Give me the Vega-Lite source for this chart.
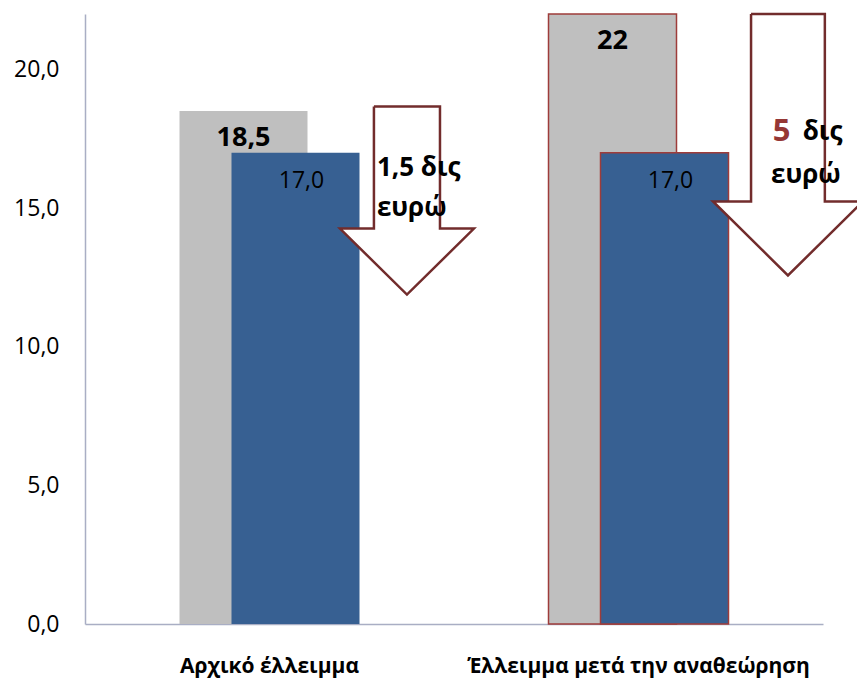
{
  "$schema": "https://vega.github.io/schema/vega-lite/v6.json",
  "width": 738,
  "height": 610,
  "autosize": {"type": "none"},
  "padding": {"left": 85, "top": 14, "right": 34, "bottom": 55},
  "background": "white",
  "config": {"view": {"stroke": null}, "font": "Open Sans", "axis": {"grid": false, "ticks": false}},
  "datasets": {
    "bars": [
      {"category": "Αρχικό έλλειμμα", "series": "Αρχικό", "value": 18.5, "label": "18,5"},
      {"category": "Αρχικό έλλειμμα", "series": "Τελικό", "value": 17.0, "label": "17,0"},
      {"category": "Έλλειμμα μετά την αναθεώρηση", "series": "Αρχικό", "value": 22, "label": "22"},
      {"category": "Έλλειμμα μετά την αναθεώρηση", "series": "Τελικό", "value": 17.0, "label": "17,0"}
    ],
    "arrows": [
      {"arrow": 1, "order": 1, "ax": 0.783, "value": 18.66},
      {"arrow": 1, "order": 2, "ax": 0.962, "value": 18.66},
      {"arrow": 1, "order": 3, "ax": 0.962, "value": 14.26},
      {"arrow": 1, "order": 4, "ax": 1.054, "value": 14.26},
      {"arrow": 1, "order": 5, "ax": 0.8725, "value": 11.88},
      {"arrow": 1, "order": 6, "ax": 0.691, "value": 14.26},
      {"arrow": 1, "order": 7, "ax": 0.783, "value": 14.26},
      {"arrow": 1, "order": 8, "ax": 0.783, "value": 18.66},
      {"arrow": 2, "order": 1, "ax": 1.805, "value": 22.0},
      {"arrow": 2, "order": 2, "ax": 2.005, "value": 22.0},
      {"arrow": 2, "order": 3, "ax": 2.005, "value": 15.24},
      {"arrow": 2, "order": 4, "ax": 2.108, "value": 15.24},
      {"arrow": 2, "order": 5, "ax": 1.905, "value": 12.57},
      {"arrow": 2, "order": 6, "ax": 1.702, "value": 15.24},
      {"arrow": 2, "order": 7, "ax": 1.805, "value": 15.24},
      {"arrow": 2, "order": 8, "ax": 1.805, "value": 22.0}
    ],
    "notes": [
      {"note": "1,5 δις", "ax": 0.791, "value": 16.46},
      {"note": "ευρώ", "ax": 0.791, "value": 14.99},
      {"note": "5", "ax": 1.864, "value": 17.76},
      {"note": "δις", "ax": 1.945, "value": 17.76},
      {"note": "ευρώ", "ax": 1.859, "value": 16.21}
    ]
  },
  "layer": [
    {
      "data": {"name": "bars"},
      "encoding": {
        "x": {
          "field": "category", "type": "nominal", "sort": null,
          "scale": {"paddingInner": 0, "paddingOuter": 0},
          "axis": {
            "title": null, "labelAngle": 0, "labelFont": "Open Sans", "labelFontWeight": "bold",
            "labelFontSize": 21, "labelColor": "black", "labelPadding": 31, "labelLimit": 0,
            "domainColor": "#a9aec4", "domainWidth": 1.5, "ticks": false
          }
        },
        "y": {
          "field": "value", "type": "quantitative",
          "scale": {"domain": [0, 22], "nice": false},
          "axis": {
            "title": null, "values": [0, 5, 10, 15, 20],
            "labelExpr": "replace(format(datum.value, '.1f'), '.', ',')",
            "labelFont": "Open Sans", "labelFontSize": 23, "labelColor": "black", "labelPadding": 26,
            "domainColor": "#a9aec4", "domainWidth": 1.5, "ticks": false, "grid": false
          }
        }
      },
      "layer": [
        {
          "transform": [{"filter": "datum.series === 'Αρχικό'"}],
          "mark": {"type": "bar", "width": 128, "xOffset": -26, "fill": "#bfbfbf", "strokeWidth": 1.5},
          "encoding": {
            "stroke": {"condition": {"test": "datum.category !== 'Αρχικό έλλειμμα'", "value": "#9e3c3a"}, "value": "transparent"}
          }
        },
        {
          "transform": [{"filter": "datum.series === 'Τελικό'"}],
          "mark": {"type": "bar", "width": 128, "xOffset": 26, "fill": "#376092", "strokeWidth": 1.5},
          "encoding": {
            "stroke": {"condition": {"test": "datum.category !== 'Αρχικό έλλειμμα'", "value": "#9e3c3a"}, "value": "transparent"}
          }
        },
        {
          "transform": [{"filter": "datum.series === 'Αρχικό'"}],
          "mark": {"type": "text", "xOffset": -26, "dy": 27, "baseline": "middle", "align": "center", "font": "Open Sans", "fontWeight": "bold", "fontSize": 27, "color": "black"},
          "encoding": {"text": {"field": "label"}}
        },
        {
          "transform": [{"filter": "datum.series === 'Τελικό'"}],
          "mark": {"type": "text", "xOffset": 32, "dy": 28, "baseline": "middle", "align": "center", "font": "Open Sans", "fontSize": 23, "color": "#000000"},
          "encoding": {"text": {"field": "label"}}
        }
      ]
    },
    {
      "encoding": {
        "x": {"field": "ax", "type": "quantitative", "scale": {"domain": [0, 2], "nice": false, "zero": false}, "axis": null},
        "y": {"field": "value", "type": "quantitative"}
      },
      "layer": [
        {
          "data": {"name": "arrows"},
          "mark": {"type": "line", "fill": "white", "stroke": "#722c2c", "strokeWidth": 2.5, "strokeJoin": "miter", "clip": false},
          "encoding": {
            "detail": {"field": "arrow", "type": "nominal"},
            "order": {"field": "order", "type": "quantitative"}
          }
        },
        {
          "data": {"name": "notes"},
          "mark": {"type": "text", "align": "left", "baseline": "middle", "font": "Open Sans", "fontWeight": "bold"},
          "encoding": {
            "text": {"field": "note"},
            "color": {"condition": {"test": "datum.note === '5'", "value": "#953735"}, "value": "black"},
            "size": {"condition": {"test": "datum.note === '5'", "value": 31}, "value": 26}
          }
        }
      ]
    }
  ],
  "resolve": {"scale": {"x": "independent"}, "axis": {"x": "independent"}}
}
